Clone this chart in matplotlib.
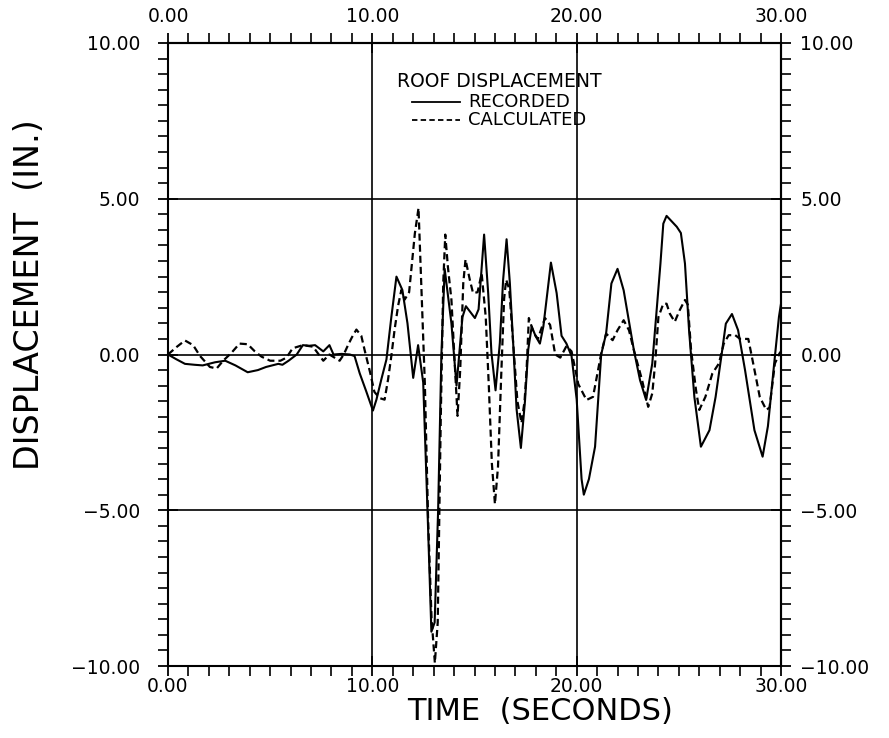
import matplotlib
matplotlib.use("Agg")
import matplotlib.pyplot as plt
from matplotlib.ticker import FixedLocator, FuncFormatter
from matplotlib.lines import Line2D
import numpy as np

plt.rcParams['font.family'] = ['DejaVu Sans']

# Roof displacement time histories (seconds, inches)
t_recorded = [0, 0.4, 0.83, 1.3, 1.7, 2.3, 2.8, 3.3, 3.9, 4.4, 4.8, 5.1, 5.4,
              5.6, 5.9, 6.3, 6.6, 6.9, 7.2, 7.6, 7.9, 8.1, 8.5, 8.9, 9.13,
              9.38, 9.7, 10.03, 10.2, 10.44, 10.69, 10.93, 11.18, 11.47,
              11.72, 12.0, 12.24, 12.49, 12.7, 12.89, 13.05, 13.22, 13.38,
              13.54, 13.87, 14.12, 14.41, 14.58, 15.02, 15.2, 15.47, 15.67,
              15.83, 16.03, 16.24, 16.4, 16.57, 16.73, 16.9, 17.06, 17.27,
              17.47, 17.63, 17.8, 17.99, 18.2, 18.37, 18.74, 19.02, 19.26,
              19.5, 19.75, 20.0, 20.24, 20.35, 20.6, 20.9, 21.2, 21.44, 21.7,
              22.0, 22.3, 22.8, 23.1, 23.4, 23.7, 23.9, 24.1, 24.24, 24.4,
              24.9, 25.1, 25.3, 25.5, 25.76, 26.08, 26.5, 26.8, 27.1, 27.3,
              27.6, 27.9, 28.24, 28.7, 29.1, 29.36, 29.7, 29.9, 30.0]
d_recorded = [0, -0.15, -0.3, -0.33, -0.35, -0.25, -0.2, -0.35, -0.57, -0.5,
              -0.4, -0.35, -0.3, -0.33, -0.2, 0.0, 0.3, 0.28, 0.3, 0.1, 0.3,
              0.0, 0.02, 0.0, -0.05, -0.6, -1.18, -1.8, -1.45, -0.8, -0.16,
              1.2, 2.5, 2.07, 1.0, -0.75, 0.3, -0.9, -5.0, -8.9, -8.6, -5.0,
              0.0, 2.75, 1.0, -1.0, 1.2, 1.55, 1.17, 1.45, 3.85, 1.97, 0.05,
              -1.15, 0.37, 2.39, 3.7, 2.3, 0.27, -1.76, -3.0, -1.5, 0.16, 0.9,
              0.59, 0.35, 0.9, 2.95, 1.97, 0.6, 0.35, -0.05, -1.44, -4.0,
              -4.5, -4.0, -2.96, 0.0, 0.67, 2.28, 2.75, 2.06, 0.14, -0.82,
              -1.46, -0.29, 1.31, 2.92, 4.2, 4.45, 4.1, 3.9, 2.92, 0.78,
              -1.36, -2.96, -2.43, -1.36, 0.03, 0.99, 1.3, 0.78, -0.5, -2.43,
              -3.28, -2.3, -0.07, 1.21, 1.63]

t_calculated = [0, 0.42, 0.83, 1.23, 1.57, 2.05, 2.38, 2.7, 3.1, 3.5, 3.9,
                4.25, 4.58, 5.0, 5.5, 5.8, 6.1, 6.6, 7.1, 7.6, 7.9, 8.4, 8.6,
                8.81, 9.0, 9.22, 9.46, 9.62, 9.9, 10.1, 10.36, 10.6, 10.77,
                10.93, 11.09, 11.26, 11.42, 11.58, 11.8, 12.08, 12.26, 12.57,
                12.73, 12.9, 13.06, 13.2, 13.35, 13.47, 13.57, 13.7, 13.87,
                14.05, 14.17, 14.3, 14.45, 14.56, 14.77, 14.93, 15.15, 15.35,
                15.55, 15.7, 15.85, 16.0, 16.15, 16.3, 16.45, 16.55, 16.7,
                16.9, 17.1, 17.3, 17.45, 17.55, 17.66, 17.9, 18.1, 18.45,
                18.7, 18.95, 19.2, 19.5, 19.75, 20.08, 20.48, 20.8, 21.2,
                21.44, 21.76, 22.0, 22.3, 22.56, 22.8, 23.2, 23.5, 23.7,
                23.84, 24.0, 24.24, 24.4, 24.56, 24.8, 25.04, 25.3, 25.44,
                25.6, 25.84, 26.0, 26.3, 26.64, 26.96, 27.2, 27.44, 27.76,
                28.0, 28.4, 28.64, 28.96, 29.28, 29.44, 29.7, 29.92, 30.0]
d_calculated = [0, 0.24, 0.45, 0.3, -0.05, -0.4, -0.45, -0.2, 0.05, 0.35,
                0.33, 0.1, -0.07, -0.2, -0.2, -0.1, 0.2, 0.3, 0.25, -0.2, 0.0,
                -0.2, 0.0, 0.3, 0.55, 0.8, 0.6, 0.15, -0.6, -1.2, -1.4, -1.45,
                -0.8, -0.05, 0.8, 1.56, 2.07, 1.76, 2.0, 3.88, 4.7, -0.93,
                -5.3, -8.5, -9.9, -8.6, -2.0, 2.29, 3.85, 2.8, 1.76, -0.5,
                -1.97, -0.5, 2.29, 3.05, 2.4, 1.97, 2.0, 2.6, 1.2, -1.0, -3.5,
                -4.8, -3.6, -0.8, 1.8, 2.4, 2.1, 0.3, -1.5, -2.2, -1.5, -0.48,
                1.17, 0.69, 0.5, 1.17, 0.95, 0.0, -0.1, 0.27, 0.1, -0.95,
                -1.46, -1.36, 0.03, 0.67, 0.46, 0.78, 1.1, 0.78, 0.14, -0.82,
                -1.68, -1.25, -0.29, 1.2, 1.63, 1.63, 1.31, 1.05, 1.42, 1.75,
                1.6, 0.14, -1.14, -1.78, -1.36, -0.61, -0.29, 0.35, 0.62,
                0.62, 0.5, 0.5, -0.29, -1.36, -1.78, -1.7, -0.29, 0.03, 0.1]

time_ticks = [0, 10, 20, 30]
disp_ticks = [-10, -5, 0, 5, 10]
legend_title = "ROOF DISPLACEMENT"
series_labels = ["RECORDED", "CALCULATED"]

time_minor = np.arange(0, 31, 1)
disp_minor = np.arange(-10, 10.01, 0.5)

fig = plt.figure(figsize=(8.89, 7.38), dpi=100)
ax = fig.add_axes([168 / 889, 1 - 666 / 738, 613 / 889, 623 / 738])

ax.plot(t_recorded, d_recorded, color="black", lw=1.5, solid_joinstyle="round")
ax.plot(t_calculated, d_calculated, color="black", lw=1.6,
        linestyle=(0, (3.2, 1.8)))

ax.set_xlim(0, 30)
ax.set_ylim(-10, 10)

for s in ax.spines.values():
    s.set_linewidth(1.5)

fmt = FuncFormatter(lambda v, p: ("%.2f" % v).replace("-", "\u2212"))

ax.xaxis.set_major_locator(FixedLocator(time_ticks))
ax.xaxis.set_minor_locator(FixedLocator(time_minor))
ax.yaxis.set_major_locator(FixedLocator(disp_ticks))
ax.yaxis.set_minor_locator(FixedLocator(disp_minor))
ax.xaxis.set_major_formatter(fmt)
ax.yaxis.set_major_formatter(fmt)
ax.grid(True, which="major", color="black", lw=1.2)

ax.tick_params(which="major", direction="inout", length=14, width=1.3,
               labelsize=13.5)
ax.tick_params(which="minor", direction="out", length=7, width=1.2)
ax.tick_params(axis="x", pad=1)
ax.tick_params(axis="y", pad=13)

top = ax.secondary_xaxis("top")
top.xaxis.set_major_locator(FixedLocator(time_ticks))
top.xaxis.set_minor_locator(FixedLocator(time_minor))
top.xaxis.set_major_formatter(fmt)
top.tick_params(which="major", direction="inout", length=14, width=1.3,
                labelsize=13.5, pad=5)
top.tick_params(which="minor", direction="out", length=7, width=1.2)
top.spines["top"].set_linewidth(1.5)

right = ax.secondary_yaxis("right")
right.yaxis.set_major_locator(FixedLocator(disp_ticks))
right.yaxis.set_minor_locator(FixedLocator(disp_minor))
right.yaxis.set_major_formatter(fmt)
right.tick_params(which="major", direction="inout", length=14, width=1.3,
                  labelsize=13.5, pad=7)
right.tick_params(which="minor", direction="out", length=7, width=1.2)
right.spines["right"].set_linewidth(1.5)

# legend block: title, line samples, and the two entry names as one text
tf = ax.transAxes
ax.text(0.374, 0.9390, legend_title, transform=tf, fontsize=13.5,
        ha="left", va="center")
ax.add_line(Line2D([0.398, 0.476], [0.9045, 0.9045], transform=tf,
                   color="black", lw=1.3))
ax.add_line(Line2D([0.398, 0.476], [0.8772, 0.8772], transform=tf,
                   color="black", lw=1.3, linestyle=(0, (3, 1.8))))
ax.text(0.489, 0.8908, "\n".join(series_labels), transform=tf, fontsize=13,
        ha="left", va="center", linespacing=0.94)

fig.text(540 / 889, 1 - 711 / 738, "TIME  (SECONDS)", fontsize=22,
         ha="center", va="center")
fig.text(30 / 889, 1 - 295 / 738, "DISPLACEMENT  (IN.)", fontsize=24,
         ha="center", va="center", rotation=90)

fig.savefig("out.png", dpi=100)
